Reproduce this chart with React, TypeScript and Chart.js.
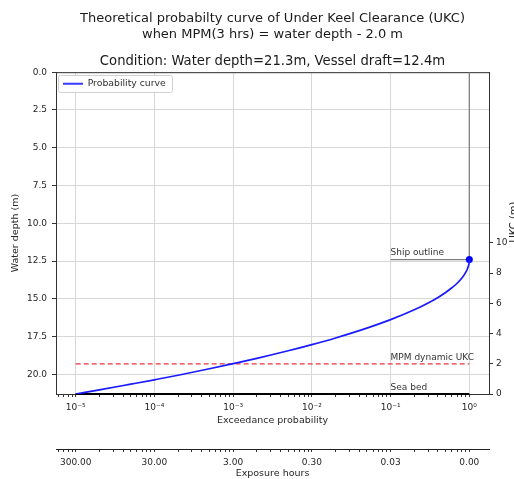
import { useEffect, useRef } from "react";
import { Chart, registerables } from "chart.js";

Chart.register(...registerables);

const FONT = "'DejaVu Sans', 'Liberation Sans', sans-serif";

// Probability curve
const exceedanceProbability = [
  1e-5, 2e-5, 5e-5, 1e-4, 2e-4, 5e-4, 1e-3, 2e-3, 5e-3, 1e-2, 2e-2, 5e-2,
  0.1, 0.2, 0.3, 0.4, 0.5, 0.6, 0.7, 0.8, 0.9, 0.95, 0.98, 0.995, 1,
];
const keelDepth = [
  21.3, 21.03, 20.65, 20.36, 20.06, 19.63, 19.29, 18.94, 18.44, 18.03, 17.59, 16.94,
  16.38, 15.73, 15.28, 14.91, 14.58, 14.27, 13.97, 13.64, 13.25, 12.99, 12.77, 12.59, 12.4,
];

const waterDepth = 21.3;
const vesselDraft = 12.4;
const mpmDepth = 19.3;
const lineStartP = 1e-5;
const lineEndP = 1;
const shipOutlineStartP = 0.1;

const decadeTicks = [1e-5, 1e-4, 1e-3, 1e-2, 1e-1, 1];
const probabilityTickLabels = ["10⁻⁵", "10⁻⁴", "10⁻³", "10⁻²", "10⁻¹", "10⁰"];
const exposureTickLabels = ["300.00", "30.00", "3.00", "0.30", "0.03", "0.00"];
const depthTicks = [0, 2.5, 5, 7.5, 10, 12.5, 15, 17.5, 20];
const ukcTicks = [0, 2, 4, 6, 8, 10];

const annotationTexts = ["Ship outline", "MPM dynamic UKC", "Sea bed"];
const annotationDepths = [vesselDraft, mpmDepth, waterDepth];
const rightAxisTitle = "UKC (m)";

const X_MIN = Math.pow(10, -5.25);
const X_MAX = Math.pow(10, 0.25);

function logTickList(min: number, max: number) {
  const out: { value: number; major: boolean }[] = [];
  for (let e = -6; e <= 0; e++) {
    for (let m = 1; m <= 9; m++) {
      const v = m * Math.pow(10, e);
      if (v >= min && v <= max) out.push({ value: v, major: m === 1 });
    }
  }
  return out;
}

function decadeIndex(v: number) {
  return decadeTicks.findIndex((t) => Math.abs(v / t - 1) < 1e-6);
}

const chartPlugin = {
  id: "ukcExtras",
  afterLayout(chart: any) {
    const lg = chart.legend;
    const ca = chart.chartArea;
    if (lg) {
      lg.top = ca.top;
      lg.bottom = ca.bottom;
      lg.left = ca.left;
      lg.right = ca.right;
    }
  },
  beforeDatasetsDraw(chart: any) {
    const { ctx, chartArea } = chart;
    ctx.save();
    // top spine
    ctx.strokeStyle = "#333";
    ctx.lineWidth = 1;
    ctx.beginPath();
    ctx.moveTo(chartArea.left, chartArea.top + 0.5);
    ctx.lineTo(chartArea.right, chartArea.top + 0.5);
    ctx.stroke();
    ctx.restore();
    // legend frame, then legend on top of it
    const legend = chart.legend;
    if (legend && legend.legendHitBoxes && legend.legendHitBoxes.length) {
      const hb = legend.legendHitBoxes[0];
      const x = Math.round(hb.left - 5) + 0.5;
      const y = Math.round(hb.top - 4.5) + 0.5;
      const w = Math.round(hb.width + 11);
      const h = Math.round(hb.height + 8);
      const r = 2;
      ctx.save();
      ctx.beginPath();
      ctx.moveTo(x + r, y);
      ctx.lineTo(x + w - r, y);
      ctx.arcTo(x + w, y, x + w, y + r, r);
      ctx.lineTo(x + w, y + h - r);
      ctx.arcTo(x + w, y + h, x + w - r, y + h, r);
      ctx.lineTo(x + r, y + h);
      ctx.arcTo(x, y + h, x, y + h - r, r);
      ctx.lineTo(x, y + r);
      ctx.arcTo(x, y, x + r, y, r);
      ctx.closePath();
      ctx.fillStyle = "rgba(255,255,255,0.95)";
      ctx.fill();
      ctx.strokeStyle = "#d0d0d0";
      ctx.lineWidth = 1;
      ctx.stroke();
      ctx.restore();
      legend.draw();
    }
  },
  afterDatasetsDraw(chart: any) {
    const { ctx } = chart;
    const xs = chart.scales.x;
    const ys = chart.scales.y;
    ctx.save();
    ctx.fillStyle = "#333";
    ctx.font = `9px ${FONT}`;
    ctx.textAlign = "left";
    ctx.textBaseline = "bottom";
    const px = xs.getPixelForValue(shipOutlineStartP);
    annotationTexts.forEach((t, i) => {
      ctx.fillText(t, px, ys.getPixelForValue(annotationDepths[i]) - 2);
    });
    // right axis title (reads bottom to top), clipped by the page edge
    ctx.translate(chart.width, 222);
    ctx.rotate(-Math.PI / 2);
    ctx.textAlign = "center";
    ctx.textBaseline = "middle";
    ctx.font = `10px ${FONT}`;
    ctx.fillStyle = "#222";
    ctx.fillText(rightAxisTitle, 0, 0);
    ctx.restore();
  },
};

export default function App() {
  const canvasRef = useRef<HTMLCanvasElement | null>(null);

  useEffect(() => {
    const canvas = canvasRef.current;
    if (!canvas) return;
    Chart.defaults.font.family = FONT;

    const tickFont = { family: FONT, size: 9 };
    const titleFont = { family: FONT, size: 9.5 };

    const chart = new Chart(canvas, {
      type: "line",
      data: {
        datasets: [
          {
            label: "Probability curve",
            data: exceedanceProbability.map((p, i) => ({ x: p, y: keelDepth[i] })),
            borderColor: "#1a1aff",
            backgroundColor: "#1a1aff",
            borderWidth: 1.7,
            pointRadius: 0,
            cubicInterpolationMode: "monotone",
            xAxisID: "x",
            yAxisID: "y",
          },
          {
            label: "Ship",
            data: [{ x: lineEndP, y: vesselDraft }],
            borderColor: "#0000ff",
            backgroundColor: "#0000ff",
            pointRadius: 3.5,
            pointBorderWidth: 0,
            showLine: false,
            xAxisID: "x",
            yAxisID: "y",
          },
          {
            label: "Ship outline",
            data: [
              { x: shipOutlineStartP, y: vesselDraft },
              { x: lineEndP, y: vesselDraft },
              { x: lineEndP, y: 0 },
            ],
            borderColor: "#808080",
            borderWidth: 1.3,
            pointRadius: 0,
            xAxisID: "x",
            yAxisID: "y",
          },
          {
            label: "MPM dynamic UKC",
            data: [
              { x: lineStartP, y: mpmDepth },
              { x: lineEndP, y: mpmDepth },
            ],
            borderColor: "#e8333f",
            borderWidth: 1.3,
            borderDash: [5, 3],
            pointRadius: 0,
            xAxisID: "x",
            yAxisID: "y",
          },
          {
            label: "Sea bed",
            data: [
              { x: lineStartP, y: waterDepth },
              { x: lineEndP, y: waterDepth },
            ],
            borderColor: "#000000",
            borderWidth: 2,
            pointRadius: 0,
            clip: false as any,
            xAxisID: "x",
            yAxisID: "y",
          },
        ],
      },
      options: {
        responsive: false,
        animation: false,
        devicePixelRatio: 1,
        layout: { padding: 0 },
        plugins: {
          tooltip: { enabled: false },
          title: {
            display: true,
            fullSize: false,
            text: [
              "Theoretical probabilty curve of Under Keel Clearance (UKC)",
              "when MPM(3 hrs) = water depth - 2.0 m",
            ],
            color: "#1a1a1a",
            font: { family: FONT, size: 13, weight: "normal", lineHeight: 1.28 },
            padding: { top: 10, bottom: 6 },
          },
          subtitle: {
            display: true,
            fullSize: false,
            text: "Condition: Water depth=21.3m, Vessel draft=12.4m",
            color: "#1a1a1a",
            font: { family: FONT, size: 13.2, weight: "normal", lineHeight: 1.28 },
            padding: { top: 4, bottom: 2 },
          },
          legend: {
            position: "chartArea" as any,
            align: "start",
            labels: {
              boxWidth: 20,
              boxHeight: 2,
              padding: 7,
              color: "#333",
              font: { family: FONT, size: 9.3 },
              generateLabels: () => [
                {
                  text: "Probability curve",
                  fillStyle: "#3a3aff",
                  strokeStyle: "#3a3aff",
                  lineWidth: 0,
                  hidden: false,
                  datasetIndex: 0,
                  fontColor: "#333",
                } as any,
              ],
            },
          },
        },
        scales: {
          x: {
            type: "logarithmic",
            position: "bottom",
            weight: 0,
            min: X_MIN,
            max: X_MAX,
            afterBuildTicks: (axis: any) => {
              axis.ticks = logTickList(X_MIN, X_MAX);
            },
            afterFit: (axis: any) => {
              axis.height = 55;
            },
            ticks: {
              autoSkip: false,
              maxRotation: 0,
              padding: 5,
              color: "#262626",
              font: tickFont,
              callback: (v: any) => {
                const i = decadeIndex(Number(v));
                return i >= 0 ? probabilityTickLabels[i] : "";
              },
            },
            grid: {
              color: (ctx: any) =>
                ctx.tick && decadeIndex(ctx.tick.value) >= 0 ? "#d6d6d6" : "rgba(0,0,0,0)",
              tickColor: "#333",
              tickLength: 3,
              lineWidth: 1,
            },
            border: { display: true, color: "#333", width: 1 },
            title: {
              display: true,
              text: "Exceedance probability",
              color: "#262626",
              font: titleFont,
              padding: { top: 0, bottom: 23 },
            },
          },
          x2: {
            type: "logarithmic",
            position: "bottom",
            weight: 1,
            min: X_MIN,
            max: X_MAX,
            afterBuildTicks: (axis: any) => {
              axis.ticks = logTickList(X_MIN, X_MAX);
            },
            afterFit: (axis: any) => {
              axis.height = 30;
            },
            ticks: {
              autoSkip: false,
              maxRotation: 0,
              padding: 5,
              color: "#262626",
              font: tickFont,
              callback: (v: any) => {
                const i = decadeIndex(Number(v));
                return i >= 0 ? exposureTickLabels[i] : "";
              },
            },
            grid: {
              drawOnChartArea: false,
              tickColor: "#333",
              tickLength: 3,
            },
            border: { display: true, color: "#222", width: 1 },
            title: {
              display: true,
              text: "Exposure hours",
              color: "#262626",
              font: titleFont,
              padding: { top: 0, bottom: 0 },
            },
          },
          y: {
            type: "linear",
            position: "left",
            reverse: true,
            min: 0,
            max: waterDepth,
            afterBuildTicks: (axis: any) => {
              axis.ticks = depthTicks.map((v) => ({ value: v }));
            },
            afterFit: (axis: any) => {
              axis.width = 56;
            },
            ticks: {
              autoSkip: false,
              padding: 5,
              color: "#262626",
              font: tickFont,
              callback: (v: any) => Number(v).toFixed(1),
            },
            grid: {
              color: "#d6d6d6",
              tickColor: "#333",
              tickLength: 4,
            },
            border: { display: true, color: "#333", width: 1 },
            title: {
              display: true,
              text: "Water depth (m)",
              color: "#262626",
              font: titleFont,
              padding: { top: 10, bottom: 0 },
            },
          },
          y2: {
            type: "linear",
            position: "right",
            min: 0,
            max: waterDepth,
            afterBuildTicks: (axis: any) => {
              axis.ticks = ukcTicks.map((v) => ({ value: v }));
            },
            afterFit: (axis: any) => {
              axis.width = 25;
            },
            ticks: {
              autoSkip: false,
              padding: 3,
              color: "#262626",
              font: tickFont,
              callback: (v: any) => String(v),
            },
            grid: {
              drawOnChartArea: false,
              tickColor: "#333",
              tickLength: 4,
            },
            border: { display: true, color: "#333", width: 1 },
          },
        },
      },
      plugins: [chartPlugin],
    } as any);

    return () => chart.destroy();
  }, []);

  return (
    <div style={{ position: "absolute", left: 0, top: 0, width: 514, height: 479, background: "#fff" }}>
      <canvas ref={canvasRef} width={514} height={479} />
    </div>
  );
}
